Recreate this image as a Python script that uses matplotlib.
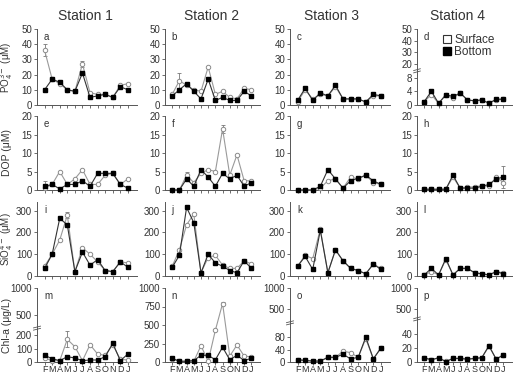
import numpy as np
import matplotlib.pyplot as plt
from matplotlib.lines import Line2D

plt.rcParams['font.family'] = ['Liberation Sans', 'DejaVu Sans']

months = ['F', 'M', 'A', 'M', 'J', 'J', 'A', 'S', 'O', 'N', 'D', 'J']
stations = ['Station 1', 'Station 2', 'Station 3', 'Station 4']
panel_letters = 'abcdefghijklmnop'

# values, one list per station
po4_surface = [[36, 17, 14, 10, 9, 27, 8, 7, 7, 5, 13, 14],
               [7, 16, 13, 10, 9, 25, 7, 9, 5, 4, 11, 10],
               [2, 10, 4, 7, 6, 12, 4, 4, 4, 2, 6, 6],
               [1, 3, 0.5, 2.8, 2, 3.5, 1.5, 1.2, 1.5, 0.5, 1.5, 1.7]]
po4_bottom = [[10, 17, 15, 10, 9, 21, 5, 6, 7, 5, 12, 10],
              [6, 10, 14, 9, 4, 17, 3, 5, 3, 3, 9, 6],
              [3, 11, 3, 8, 6, 13, 4, 4, 4, 2, 7, 6],
              [1, 4, 0.5, 3, 2.5, 3.5, 1.5, 1.2, 1.5, 0.5, 1.7, 1.7]]

dop_surface = [[0.5, 1.5, 5, 1.5, 3, 5.5, 1.5, 1.5, 4, 4.5, 1.5, 3],
               [0, 0, 4, 2, 4.5, 5.5, 5, 16.5, 4, 9.5, 2.5, 2.5],
               [0, 0, 0, 0.5, 2.5, 3, 0.5, 3.5, 3, 4, 2, 1.5],
               [0.2, 0.2, 0.2, 0.2, 3.5, 0.5, 0.8, 0.8, 1.2, 1, 3.5, 2]]
dop_bottom = [[1, 1.5, 0.3, 1.5, 1.5, 2.5, 1, 4.5, 4.5, 4.5, 1.5, 0.5],
              [0, 0, 3, 1, 5.5, 3.5, 1, 4.5, 3, 4, 1, 2],
              [0, 0, 0, 1, 5.5, 3, 0.5, 2.5, 3.2, 4, 2.5, 1.5],
              [0.2, 0.2, 0.2, 0.2, 4, 0.5, 0.5, 0.5, 1, 1.5, 3, 3.5]]

sio4_surface = [[45, 100, 165, 280, 20, 130, 100, 65, 25, 20, 65, 60],
                [45, 120, 235, 285, 15, 85, 95, 50, 35, 35, 70, 55],
                [45, 95, 80, 215, 15, 120, 70, 35, 25, 10, 55, 35],
                [5, 20, 5, 75, 5, 35, 35, 15, 10, 5, 20, 15]]
sio4_bottom = [[35, 100, 265, 235, 20, 110, 50, 75, 25, 20, 65, 40],
               [40, 95, 315, 245, 15, 100, 60, 45, 25, 15, 70, 35],
               [45, 90, 30, 210, 15, 120, 70, 35, 25, 10, 55, 30],
               [5, 35, 5, 80, 5, 35, 35, 15, 10, 5, 20, 10]]

chla_surface = [[30, 10, 10, 170, 115, 10, 130, 60, 50, 130, 20, 15],
                [40, 10, 10, 10, 220, 10, 430, 790, 80, 230, 80, 70],
                [5, 5, 3, 3, 15, 15, 35, 30, 15, 75, 10, 45],
                [6, 3, 6, 1, 5, 5, 4, 5, 6, 22, 4, 10]]
chla_bottom = [[50, 25, 10, 40, 30, 10, 15, 15, 40, 140, 10, 60],
               [50, 10, 10, 20, 90, 90, 30, 200, 30, 90, 20, 50],
               [8, 5, 3, 3, 15, 15, 25, 10, 15, 80, 10, 45],
               [6, 3, 6, 0.5, 5, 5, 4, 5, 6, 23, 4, 10]]

# (row, station, series, month index, error)
error_bars = [(0, 0, 's', 0, 4), (0, 0, 's', 5, 2), (0, 1, 's', 1, 5),
              (1, 0, 'b', 0, 1.5), (1, 1, 's', 7, 1.2), (1, 1, 's', 2, 1),
              (1, 3, 'b', 11, 3), (2, 0, 's', 3, 15), (3, 0, 's', 3, 60),
              (3, 1, 's', 7, 20)]

rows = [(po4_surface, po4_bottom, 'PO$_4^{3-}$ (\u03bcM)'),
        (dop_surface, dop_bottom, 'DOP (\u03bcM)'),
        (sio4_surface, sio4_bottom, 'SiO$_4^{4-}$ (\u03bcM)'),
        (chla_surface, chla_bottom, 'Chl-a (\u03bcg/L)')]

ylims = [50, 20, 340, 1000]
yticks = [[0, 10, 20, 30, 40, 50], [0, 5, 10, 15, 20], [0, 100, 200, 300],
          [0, 250, 500, 750, 1000]]
special_ticks = {(0, 3): [0, 4, 8, 20, 30, 40, 50],
                 (3, 0): [0, 100, 200, 500, 1000],
                 (3, 2): [0, 40, 80, 500, 1000],
                 (3, 3): [0, 20, 40, 500, 1000]}
# broken axes: value -> axes fraction, plus where the break mark sits
breaks = {(0, 3): ([0, 8, 20, 50], [0, 0.36, 0.54, 1.0], 14),
          (3, 0): ([0, 250, 500, 1000], [0, 0.45, 0.64, 1.0], 260),
          (3, 2): ([0, 100, 500, 1000], [0, 0.42, 0.71, 1.0], 250),
          (3, 3): ([0, 50, 500, 1000], [0, 0.48, 0.71, 1.0], 250)}

W, H = 527, 378
col_l = [37, 165, 290, 417]
col_r = [137, 260, 390, 512]
row_t = [29, 116, 202, 288]
row_b = [105, 190, 276, 362]
title_x = [85, 212, 332, 457]

fig = plt.figure(figsize=(W / 100, H / 100), dpi=100)
x = np.arange(len(months))

for r, (surf, bott, ylab) in enumerate(rows):
    for c in range(4):
        ax = fig.add_axes([col_l[c] / W, 1 - row_b[r] / H,
                           (col_r[c] - col_l[c]) / W, (row_b[r] - row_t[r]) / H])
        key = (r, c)
        if key in breaks:
            xs, ys, brk = breaks[key]
            ax.set_yscale('function',
                          functions=(lambda v, xs=xs, ys=ys: np.interp(v, xs, ys),
                                     lambda v, xs=xs, ys=ys: np.interp(v, ys, xs)))
        ax.plot(x, surf[c], color='#9a9a9a', lw=0.8, marker='o', ms=3.2,
                mfc='white', mec='#8a8a8a', mew=0.7, clip_on=False, zorder=3)
        ax.plot(x, bott[c], color='#333333', lw=0.8, marker='s', ms=3.0,
                mfc='black', mec='black', clip_on=False, zorder=4)
        for (er, ec, es, ei, ev) in error_bars:
            if er == r and ec == c:
                vals = surf[c] if es == 's' else bott[c]
                ax.errorbar(x[ei], vals[ei], yerr=ev, color='#777777', lw=0.6,
                            capsize=1.2, capthick=0.6, fmt='none', zorder=2)
        ax.set_xlim(-1, 12.2)
        ax.set_ylim(0, ylims[r])
        ax.set_yticks(special_ticks.get(key, yticks[r]))
        ax.yaxis.set_minor_locator(plt.NullLocator())
        ax.set_xticks(x)
        if r == 3:
            ax.set_xticklabels(months)
        else:
            ax.set_xticklabels([])
        for side in ['top', 'right']:
            ax.spines[side].set_visible(False)
        for side in ['left', 'bottom']:
            ax.spines[side].set_color('#555555')
            ax.spines[side].set_linewidth(0.7)
        ax.tick_params(axis='y', length=2.5, width=0.6, pad=1, labelsize=7,
                       colors='#555555', labelcolor='#333333')
        ax.tick_params(axis='x', length=2, width=0.6, pad=0.5, labelsize=6.5,
                       colors='#555555', labelcolor='#333333')
        ax.text(0.07, 0.96, panel_letters[r * 4 + c], transform=ax.transAxes,
                fontsize=7, color='#333333', va='top')
        if key in breaks:
            xs, ys, brk = breaks[key]
            f = np.interp(brk, xs, ys)
            for d in (-0.015, 0.015):
                ax.plot([-0.035, 0.035], [f + d - 0.012, f + d + 0.012],
                        transform=ax.transAxes, color='#555555', lw=0.6,
                        clip_on=False)
    fig.text(7 / W, 1 - (row_t[r] + row_b[r]) / 2 / H, ylab, rotation=90,
             ha='center', va='center', fontsize=7.5 if r in (1, 3) else 7,
             color='#333333')

for c in range(4):
    fig.text(title_x[c] / W, 1 - 16 / H, stations[c], ha='center', va='center',
             fontsize=10, color='#333333')

handles = [Line2D([], [], ls='none', marker='s', ms=6, mfc='white', mec='#333333', mew=0.8),
           Line2D([], [], ls='none', marker='s', ms=6, mfc='black', mec='black')]
fig.legend(handles, ['Surface', 'Bottom'], loc='upper left',
           bbox_to_anchor=(437 / W, 1 - 28 / H), frameon=False, fontsize=8.5,
           handlelength=0.7, handletextpad=0.25, labelspacing=0.05,
           borderpad=0, labelcolor='#333333')

fig.savefig('out.png', dpi=100)
